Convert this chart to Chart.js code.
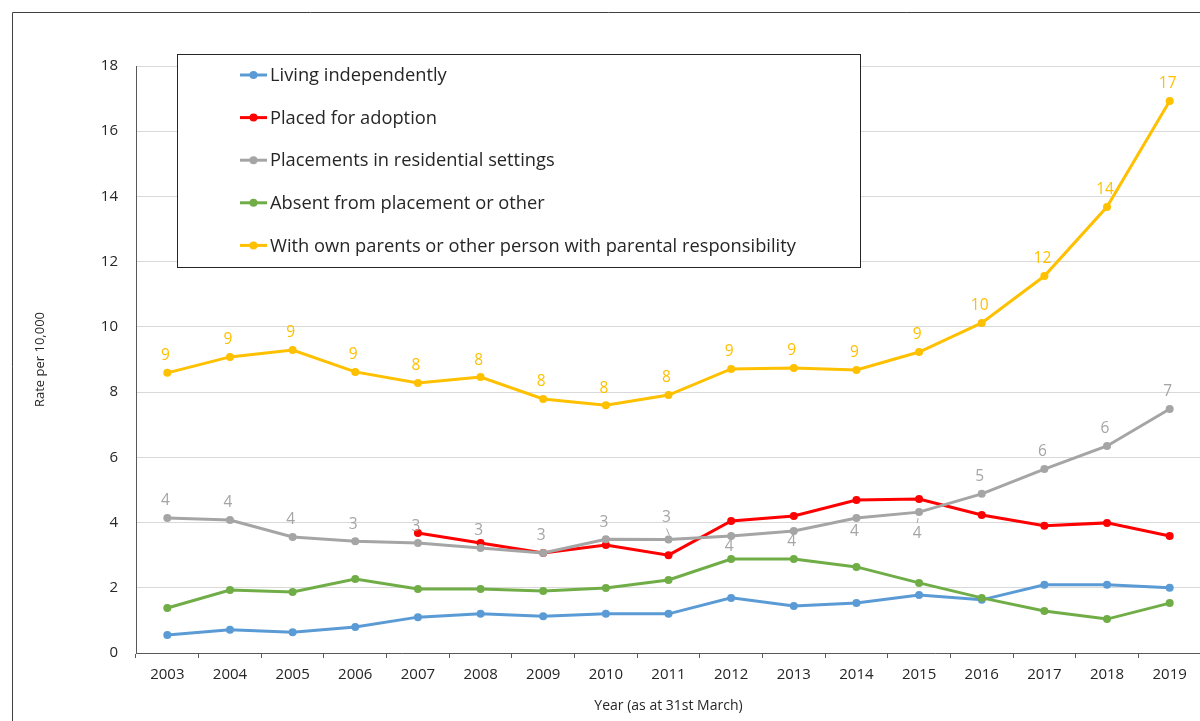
<!DOCTYPE html>
<html>
<head>
<meta charset="utf-8">
<title>Rate per 10,000 by placement type</title>
<script src="https://cdn.jsdelivr.net/npm/chart.js@4.4.1/dist/chart.umd.min.js"></script>
<style>
  html, body { margin: 0; padding: 0; background: #fff; }
  #wrap { width: 1200px; height: 721px; position: relative; overflow: hidden; }
</style>
</head>
<body>
<div id="wrap"><canvas id="rateChart" width="1205" height="721"></canvas></div>
<script>
const years = ['2003', '2004', '2005', '2006', '2007', '2008', '2009', '2010', '2011',
               '2012', '2013', '2014', '2015', '2016', '2017', '2018', '2019'];

const livingIndependently = [0.55, 0.71, 0.64, 0.80, 1.10, 1.20, 1.13, 1.20, 1.20,
                             1.69, 1.44, 1.53, 1.78, 1.63, 2.09, 2.09, 2.00];
const placedForAdoption = [null, null, null, null, 3.68, 3.37, 3.07, 3.31, 3.00,
                           4.05, 4.20, 4.69, 4.72, 4.23, 3.90, 3.99, 3.59];
const residentialSettings = [4.14, 4.08, 3.56, 3.43, 3.37, 3.22, 3.07, 3.49, 3.48,
                             3.59, 3.74, 4.14, 4.32, 4.88, 5.64, 6.35, 7.48];
const absentOrOther = [1.38, 1.93, 1.87, 2.27, 1.96, 1.96, 1.90, 1.99, 2.24,
                       2.88, 2.88, 2.64, 2.15, 1.69, 1.29, 1.04, 1.53];
const withOwnParents = [8.59, 9.08, 9.29, 8.62, 8.28, 8.46, 7.79, 7.60, 7.91,
                        8.71, 8.74, 8.68, 9.23, 10.12, 11.56, 13.68, 16.93];

const yTicks = [0, 2, 4, 6, 8, 10, 12, 14, 16, 18];

const FONT = '"Open Sans", "Noto Sans", sans-serif';
const TEXT = '#262626';

// per-point label placement (y offset from the point), default is above
const labelPlacement = {
  residential: { 8: { dy: -22, leader: true }, 9: { dy: 11 }, 10: { dy: 11 }, 11: { dy: 14 }, 12: { dy: 21, leader: true } }
};

function series(label, data, color, order, extra) {
  return Object.assign({
    label: label,
    data: data,
    borderColor: color,
    backgroundColor: color,
    borderWidth: 3,
    pointRadius: 4,
    pointHoverRadius: 4,
    pointBorderWidth: 0,
    tension: 0,
    order: order,
    clip: false
  }, extra || {});
}

// value labels on the orange and grey lines
const valueLabels = {
  id: 'valueLabels',
  afterDatasetsDraw(chart) {
    const ctx = chart.ctx;
    ctx.save();
    ctx.font = '15.5px ' + FONT;
    ctx.textAlign = 'center';
    ctx.textBaseline = 'middle';
    chart.data.datasets.forEach((ds, i) => {
      if (!ds.showValues) return;
      const meta = chart.getDatasetMeta(i);
      const place = labelPlacement[ds.key] || {};
      meta.data.forEach((pt, j) => {
        const v = ds.data[j];
        if (v == null) return;
        const p = place[j] || { dy: -17 };
        const x = pt.x - 2;
        const y = pt.y + p.dy;
        ctx.fillStyle = ds.borderColor;
        ctx.fillText(String(Math.round(v)), x, y);
        if (p.leader) {
          ctx.strokeStyle = ds.borderColor;
          ctx.lineWidth = 1;
          ctx.beginPath();
          if (p.dy < 0) {
            ctx.moveTo(x, y + 11);
            ctx.lineTo(x + 3, y + 18);
          } else {
            ctx.moveTo(x, y - 10);
            ctx.lineTo(x + 1, y - 15);
          }
          ctx.stroke();
        }
      });
    });
    ctx.restore();
  }
};

// boxed legend inside the plot + outer frame
const boxLegend = {
  id: 'boxLegend',
  afterDraw(chart) {
    const ctx = chart.ctx;
    ctx.save();
    ctx.strokeStyle = '#404040';
    ctx.lineWidth = 1;
    ctx.beginPath();
    ctx.moveTo(12.5, 721);
    ctx.lineTo(12.5, 12.5);
    ctx.lineTo(1205, 12.5);
    ctx.stroke();

    const bx = 177, by = 54, bw = 683, bh = 213;
    ctx.fillStyle = '#fff';
    ctx.fillRect(bx, by, bw, bh);
    ctx.strokeStyle = '#262626';
    ctx.strokeRect(bx + 0.5, by + 0.5, bw, bh);

    const order = ['independent', 'adoption', 'residential', 'absent', 'parents'];
    ctx.font = '18.3px ' + FONT;
    ctx.textBaseline = 'middle';
    ctx.textAlign = 'left';
    order.forEach((key, k) => {
      const ds = chart.data.datasets.find(d => d.key === key);
      const y = 75 + k * 42.6;
      ctx.strokeStyle = ds.borderColor;
      ctx.lineWidth = 3;
      ctx.beginPath();
      ctx.moveTo(240, y);
      ctx.lineTo(267, y);
      ctx.stroke();
      ctx.fillStyle = ds.borderColor;
      ctx.beginPath();
      ctx.arc(253.5, y, 4, 0, Math.PI * 2);
      ctx.fill();
      ctx.fillStyle = TEXT;
      ctx.fillText(ds.label, 270, y + 1);
    });
    ctx.restore();
  }
};

const ctx = document.getElementById('rateChart').getContext('2d');
const rateChart = new Chart(ctx, {
  type: 'line',
  data: {
    labels: years,
    datasets: [
      series('Living independently', livingIndependently, '#5b9bd5', 4, { key: 'independent' }),
      series('Placed for adoption', placedForAdoption, '#ff0000', 3, { key: 'adoption', spanGaps: false }),
      series('Placements in residential settings', residentialSettings, '#a5a5a5', 2, { key: 'residential', showValues: true }),
      series('Absent from placement or other', absentOrOther, '#70ad47', 1, { key: 'absent' }),
      series('With own parents or other person with parental responsibility', withOwnParents, '#ffc000', 0, { key: 'parents', showValues: true })
    ]
  },
  options: {
    responsive: false,
    animation: false,
    events: [],
    layout: { padding: { top: 66, left: 0, right: 0, bottom: 0 } },
    plugins: {
      legend: { display: false },
      tooltip: { enabled: false }
    },
    scales: {
      x: {
        offset: true,
        grid: {
          offset: true,
          drawOnChartArea: false,
          drawTicks: true,
          tickLength: 5,
          color: '#595959'
        },
        border: { color: '#595959', width: 1 },
        ticks: {
          color: TEXT,
          font: { family: FONT, size: 15 },
          padding: 8,
          maxRotation: 0,
          autoSkip: false
        },
        title: {
          display: true,
          text: 'Year (as at 31st March)',
          color: TEXT,
          font: { family: FONT, size: 14 },
          padding: { top: 0, bottom: 7 }
        },
        afterFit(scale) { scale.height = 68; }
      },
      y: {
        min: 0,
        max: 18,
        afterBuildTicks(scale) { scale.ticks = yTicks.map(v => ({ value: v })); },
        grid: {
          color: '#d9d9d9',
          drawTicks: false
        },
        border: { color: '#595959', width: 1 },
        ticks: {
          color: TEXT,
          font: { family: FONT, size: 15 },
          padding: 18
        },
        title: {
          display: true,
          text: 'Rate per 10,000',
          color: TEXT,
          font: { family: FONT, size: 13 },
          padding: { top: 32, bottom: 0 }
        },
        afterFit(scale) { scale.width = 136; }
      }
    }
  },
  plugins: [valueLabels, boxLegend]
});
</script>
</body>
</html>
